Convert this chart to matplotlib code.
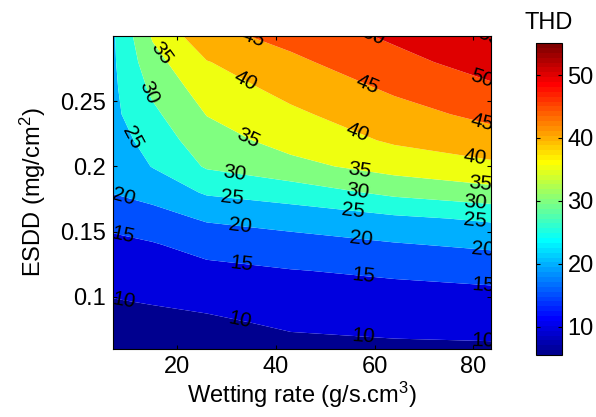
import numpy as np
import matplotlib
matplotlib.use("Agg")
import matplotlib.pyplot as plt
from matplotlib.colors import ListedColormap, Normalize
from matplotlib.cm import ScalarMappable

plt.rcParams['font.family'] = ['Liberation Sans', 'DejaVu Sans']
plt.rcParams['mathtext.fontset'] = 'custom'
plt.rcParams['mathtext.rm'] = 'Liberation Sans'
plt.rcParams['mathtext.it'] = 'Liberation Sans:italic'

# ---- data ----
wetting_rate = [7, 15, 26, 43, 64, 83.6]
esdd = [0.06, 0.08, 0.10, 0.12, 0.14, 0.16, 0.18, 0.20, 0.22, 0.24, 0.26, 0.28, 0.30]
thd = [
    [5.5, 6.62, 6.88, 8.65, 9.17, 9.35],
    [8.25, 8.63, 9.17, 10.71, 11.25, 11.52],
    [10.11, 10.63, 11.47, 12.76, 13.33, 13.70],
    [11.97, 12.64, 13.76, 14.82, 15.77, 16.67],
    [13.83, 14.64, 16.71, 17.95, 19.62, 20.91],
    [16.52, 18.05, 20.57, 22.07, 24.09, 25.71],
    [20.2, 21.73, 25.57, 27.38, 31.15, 33.33],
    [21.5, 25.19, 30.53, 33.52, 37.0, 39.0],
    [22.7, 27.08, 32.85, 36.82, 40.64, 42.96],
    [23.9, 28.96, 35.17, 39.09, 43.21, 46.29],
    [24.1, 31.0, 37.47, 41.5, 45.77, 49.14],
    [24.3, 33.22, 39.77, 44.0, 48.33, 52.4],
    [24.4, 35.5, 43.5, 46.5, 50.9, 55.1],
]
contour_levels = [10, 15, 20, 25, 30, 35, 40, 45, 50, 55]
x_ticks = [20, 40, 60, 80]
y_ticks = [0.1, 0.15, 0.2, 0.25]
y_tick_labels = ['0.1', '0.15', '0.2', '0.25']
cbar_ticks = [10, 20, 30, 40, 50]

# label anchor positions (near which the contour labels are placed)
label_positions = [
    (16.9, 0.287), (14.2, 0.2565), (11.5, 0.223), (9.4, 0.1795), (9.4, 0.1538), (9.4, 0.100),
    (35.1, 0.2962), (34.4, 0.2692), (34.1, 0.2205), (31.7, 0.1949), (31.1, 0.1757),
    (32.8, 0.1577), (33.1, 0.1295), (32.8, 0.0846),
    (58.5, 0.2975), (58.5, 0.2615), (56.8, 0.2282), (56.8, 0.1923), (56.4, 0.1782),
    (55.7, 0.1641), (57.4, 0.1461), (57.8, 0.1192), (57.8, 0.0705),
    (81.8, 0.2936), (81.8, 0.2667), (81.4, 0.2295), (80.1, 0.2026), (81.4, 0.1834),
    (80.4, 0.1705), (80.4, 0.1565), (82.1, 0.1372), (82.1, 0.1154), (82.1, 0.068),
]


# MATLAB jet(64)
def matlab_jet(m=64):
    n = int(np.ceil(m / 4))
    u = np.concatenate([np.arange(1, n + 1) / n, np.ones(n - 1), np.arange(n, 0, -1) / n])
    g = int(np.ceil(n / 2)) - (1 if m % 4 == 1 else 0) + np.arange(1, len(u) + 1)
    r = g + n
    b = g - n
    J = np.zeros((m, 3))
    for idx, ch in ((r, 0), (g, 1), (b, 2)):
        ok = (idx >= 1) & (idx <= m)
        J[idx[ok] - 1, ch] = u[ok]
    return J


JET = matlab_jet(64)
jet_m = ListedColormap(JET, name='jet64')

X, Y = np.meshgrid(wetting_rate, esdd)
Z = np.array(thd)
vmin, vmax = Z.min(), Z.max()
norm = Normalize(vmin, vmax)


def color_of(v):
    i = int(np.floor((v - vmin) / (vmax - vmin) * 64))
    return JET[min(max(i, 0), 63)]


fill_levels = [-1e3] + contour_levels + [1e3]
lowers = [vmin] + contour_levels
band_colors = [color_of(v) for v in lowers]

fig = plt.figure(figsize=(5.96, 4.17), dpi=100)
ax = fig.add_axes([113/596, 1-349/417, 378/596, 313/417])
ax.contourf(X, Y, Z, levels=fill_levels, colors=band_colors, antialiased=True)
ax.set_xlim(min(wetting_rate), max(wetting_rate))
ax.set_ylim(min(esdd), max(esdd))

cs = ax.contour(X, Y, Z, levels=contour_levels, colors='k', linewidths=0)
ax.clabel(cs, manual=label_positions, inline=False, fontsize=15, colors='k', fmt='%d')
for t in cs.labelTexts:
    t.set_clip_path(ax.patch)
    t.set_clip_on(True)

ax.set_xticks(x_ticks)
ax.set_yticks(y_ticks)
ax.set_yticklabels(y_tick_labels)
ax.tick_params(direction='in', length=3, width=0.8, top=True, right=True,
               labelsize=17, pad=5, colors='k')
for s in ax.spines.values():
    s.set_linewidth(0.8)
ax.set_xlabel('Wetting rate (g/s.cm$^3$)', fontsize=17, labelpad=1)
ax.set_ylabel('ESDD (mg/cm$^2$)', fontsize=17, labelpad=9)

cax = fig.add_axes([536/596, 1-355/417, 26/596, 312/417])
sm = ScalarMappable(norm=norm, cmap=jet_m)
cb = fig.colorbar(sm, cax=cax, ticks=cbar_ticks)
cb.ax.tick_params(direction='in', length=3, width=0.8, left=True, right=True,
                  labelsize=17, pad=4)
cb.outline.set_linewidth(0.8)
fig.text(549/596, 1-29/417, 'THD', ha='center', va='baseline', fontsize=17)

fig.savefig('out.png', dpi=100)
